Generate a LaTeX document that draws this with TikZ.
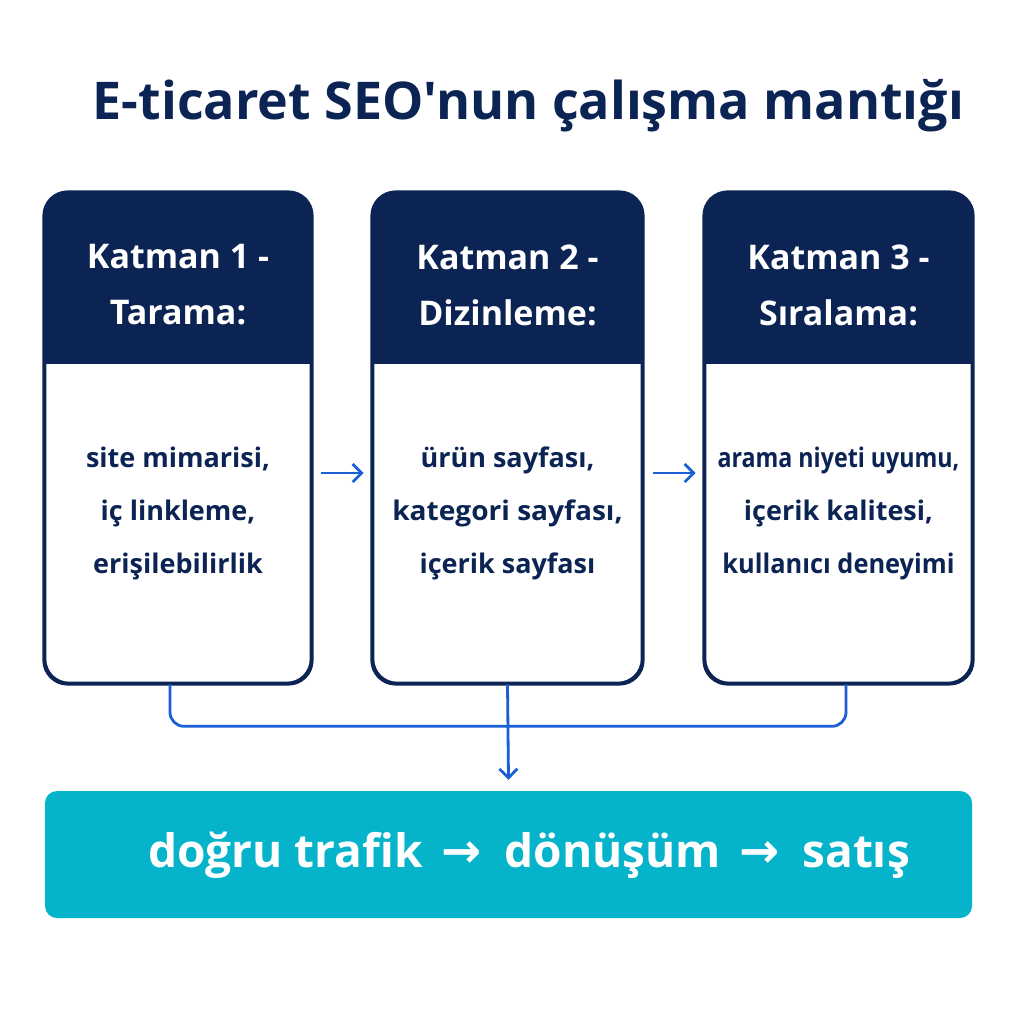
\documentclass[tikz,border=0pt]{standalone}
\usepackage{fontspec}
\setmainfont{Open Sans}
\newfontfamily\titlef{Open Sans}
\newfontfamily\symf{DejaVu Sans}
\usetikzlibrary{arrows.meta}
\definecolor{navy}{HTML}{0B2454}
\definecolor{blu}{HTML}{1A5FD6}
\definecolor{tealc}{HTML}{05B3CA}
\tikzset{
  card/.style={draw=navy, line width=2.6pt, rounded corners=24pt, minimum width=#1, minimum height=490pt, inner sep=0pt},
  hdr/.style={text=white, font=\fontsize{34}{56}\selectfont\bfseries, align=center},
  bodytxt/.style={text=navy, font=\fontsize{27}{53}\selectfont\bfseries, align=center},
  arr/.style={draw=blu, line width=2.8pt, -{Straight Barb[length=9pt,width=18pt,line width=2.8pt]}},
  link/.style={draw=blu, line width=2.8pt, rounded corners=14pt},
}
\newcommand{\narrow}[2]{\scalebox{#1}[1]{#2}}
\newcommand{\barrow}{\hspace{0.4em}{\symf\bfseries\fontsize{48}{56}\selectfont →}\hspace{0.5em}}
\begin{document}
\begin{tikzpicture}[x=1pt,y=-1pt]
\useasboundingbox[fill=white] (0,0) rectangle (1024,1024);
\node[text=navy, font=\titlef\fontsize{52}{60}\selectfont\bfseries] (title) at (528.5,106) {E-ticaret SEO'nun çalışma mantığı};

\foreach \n/\cx/\w in {1/178/266, 2/507.5/269, 3/838.5/267} {
  \node[card=\w pt] (k\n) at (\cx,438) {};
  \begin{scope}
    \clip[rounded corners=24pt] (k\n.south west) rectangle (k\n.north east);
    \fill[navy] (k\n.north west) rectangle ([yshift=-172pt]k\n.north east);
  \end{scope}
  \draw[navy, line width=2.6pt, rounded corners=24pt] (k\n.south west) rectangle (k\n.north east);
}
\node[hdr] (h1) at (178,285) {Katman 1 -\\Tarama:};
\node[hdr] (h2) at (507.5,285) {Katman 2 -\\Dizinleme:};
\node[hdr] (h3) at (838.5,285) {Katman 3 -\\Sıralama:};

\node[bodytxt] (t1) at (178,513) {site mimarisi,\\iç linkleme,\\erişilebilirlik};
\node[bodytxt] (t2) at (507.5,513) {ürün sayfası,\\\narrow{1.04}{kategori sayfası,}\\içerik sayfası};
\node[bodytxt] (t3) at (838.5,513) {\narrow{0.86}{arama niyeti uyumu,}\\içerik kalitesi,\\\narrow{0.94}{kullanıcı deneyimi}};

\draw[arr] ([xshift=9pt,yshift=-35pt]k1.east) -- ([xshift=-8pt,yshift=-35pt]k2.west);
\draw[arr] ([xshift=10pt,yshift=-35pt]k2.east) -- ([xshift=-8pt,yshift=-35pt]k3.west);

\node[fill=tealc, rounded corners=12pt, minimum width=927pt, minimum height=127pt, inner sep=0pt] (bar) at (508.5,854.5) {};
\node[text=white, font=\fontsize{46}{56}\selectfont\bfseries] (bt) at (529,855) {doğru trafik\barrow dönüşüm\barrow satış};

\draw[link] ([xshift=-8pt]k1.south) -- ++(0,42) -| ([xshift=7.5pt]k3.south);
\draw[arr] (k2.south) -- ([yshift=11pt]bar.north);
\end{tikzpicture}
\end{document}
